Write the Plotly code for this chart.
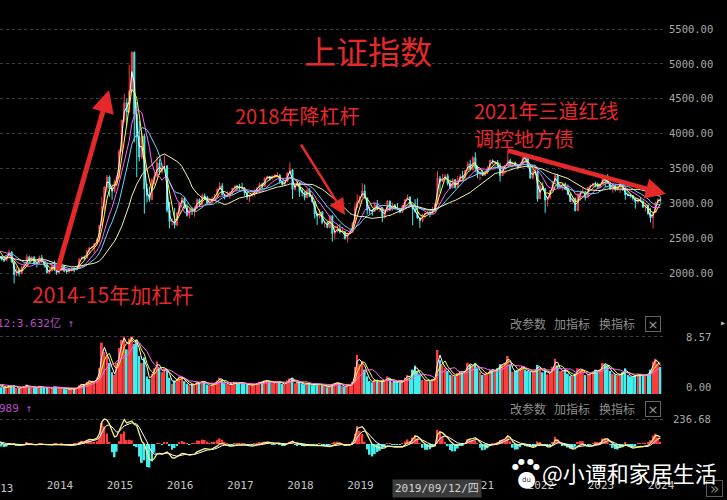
import pandas as pd
import plotly.graph_objects as go
from plotly.subplots import make_subplots

# ---------------- data: Shanghai Composite, half-month candles (Oct 2012 - Mar 2024) ----------------
opens = [
    2086, 2120, 2069, 2030, 1980, 2150,
    2269, 2311, 2385, 2432, 2365, 2278, 2237, 2194, 2178, 2246, 2301, 2162, 1979, 2039, 1994, 2085, 2098, 2231, 2175, 2228, 2141, 2136, 2220, 2160,
    2116, 2004, 2033, 2113, 2056, 2004, 2033, 2105, 2026, 2025, 2039, 2070, 2048, 2070, 2201, 2226, 2217, 2315, 2364, 2366, 2420, 2478, 2683, 2953,
    3235, 3376, 3210, 3173, 3310, 3373, 3748, 4194, 4441, 4309, 4612, 5166, 4277, 3957, 3664, 3965, 3206, 3114, 3053, 3338, 3383, 3580, 3445, 3520,
    3539, 2900, 2738, 2746, 2688, 2860, 3004, 3074, 2938, 2827, 2917, 2885, 2930, 3054, 2979, 3110, 3085, 3002, 3005, 3064, 3100, 3196, 3250, 3123,
    3104, 3112, 3159, 3217, 3242, 3237, 3223, 3222, 3155, 3090, 3117, 3132, 3192, 3222, 3273, 3246, 3361, 3385, 3349, 3391, 3393, 3403, 3317, 3266,
    3307, 3436, 3481, 3199, 3259, 3291, 3169, 3159, 3082, 3192, 3095, 3022, 2847, 2814, 2876, 2723, 2725, 2651, 2821, 2568, 2603, 2632, 2588, 2594,
    2494, 2570, 2585, 2719, 2941, 3021, 3091, 3177, 3078, 2903, 2899, 2882, 2979, 2917, 2932, 2815, 2886, 3031, 2905, 2976, 2929, 2909, 2872, 2968,
    3050, 3090, 2977, 2917, 2880, 2790, 2750, 2838, 2860, 2868, 2852, 2890, 2985, 3361, 3310, 3360, 3396, 3283, 3218, 3338, 3225, 3339, 3392, 3367,
    3473, 3566, 3483, 3655, 3509, 3419, 3442, 3398, 3447, 3490, 3615, 3589, 3591, 3539, 3397, 3517, 3544, 3614, 3568, 3572, 3547, 3521, 3564, 3681,
    3640, 3521, 3361, 3462, 3462, 3063, 3252, 3211, 3047, 3084, 3186, 3316, 3398, 3228, 3253, 3277, 3202, 3126, 3024, 3071, 2893, 3134, 3151, 3168,
    3089, 3228, 3255, 3284, 3280, 3227, 3273, 3380, 3323, 3290, 3205, 3252, 3202, 3237, 3291, 3190, 3120, 3117, 3110, 3073, 3018, 3054, 3030, 2942,
    2975, 2845, 2789, 2865, 3015, 3055,
]
highs = [
    2133, 2135, 2090, 2040, 2155, 2276,
    2320, 2395, 2444, 2434, 2370, 2300, 2245, 2220, 2260, 2334, 2310, 2165, 2092, 2071, 2100, 2149, 2270, 2250, 2243, 2240, 2160, 2250, 2260, 2170,
    2120, 2065, 2125, 2177, 2075, 2060, 2146, 2110, 2040, 2060, 2080, 2080, 2090, 2210, 2240, 2250, 2330, 2370, 2390, 2430, 2490, 2690, 3091, 3239,
    3406, 3400, 3270, 3340, 3400, 3776, 4200, 4570, 4500, 4986, 5178, 5176, 4450, 4184, 4006, 3994, 3280, 3240, 3360, 3460, 3678, 3632, 3580, 3684,
    3539, 3020, 2780, 2933, 2880, 3019, 3097, 3090, 2990, 2930, 2945, 2960, 3070, 3070, 3140, 3140, 3106, 3060, 3090, 3134, 3215, 3301, 3288, 3130,
    3172, 3170, 3220, 3260, 3265, 3280, 3295, 3230, 3160, 3120, 3160, 3200, 3230, 3300, 3300, 3370, 3392, 3390, 3400, 3420, 3450, 3420, 3320, 3310,
    3440, 3587, 3495, 3280, 3334, 3300, 3220, 3170, 3200, 3220, 3125, 3030, 2855, 2916, 2890, 2750, 2740, 2830, 2825, 2680, 2700, 2700, 2660, 2600,
    2580, 2620, 2730, 2995, 3130, 3110, 3288, 3270, 3080, 2950, 2920, 3010, 3048, 2950, 2945, 2900, 3042, 3040, 3010, 2990, 3000, 2935, 2980, 3060,
    3127, 3100, 2980, 3058, 3074, 2800, 2850, 2860, 2900, 2890, 2950, 2990, 3458, 3393, 3420, 3420, 3425, 3340, 3360, 3350, 3390, 3420, 3465, 3475,
    3600, 3626, 3680, 3731, 3540, 3470, 3480, 3470, 3530, 3625, 3630, 3610, 3620, 3580, 3540, 3550, 3723, 3640, 3600, 3600, 3560, 3590, 3708, 3690,
    3650, 3560, 3500, 3510, 3480, 3290, 3300, 3215, 3090, 3190, 3320, 3420, 3424, 3290, 3280, 3300, 3270, 3150, 3090, 3080, 3140, 3170, 3226, 3170,
    3235, 3270, 3290, 3310, 3300, 3290, 3390, 3395, 3418, 3300, 3260, 3260, 3260, 3300, 3322, 3240, 3170, 3140, 3110, 3080, 3070, 3090, 3040, 2980,
    2980, 2930, 2870, 3020, 3070, 3090,
]
lows = [
    2074, 2060, 2025, 1949, 1959, 2140,
    2255, 2262, 2380, 2280, 2240, 2220, 2180, 2161, 2175, 2240, 2150, 1849, 1953, 1951, 1980, 2070, 2090, 2150, 2170, 2130, 2080, 2130, 2150, 2080,
    1990, 1985, 2020, 2030, 1974, 1985, 2030, 2010, 1991, 2000, 2020, 2010, 2040, 2060, 2190, 2180, 2210, 2270, 2340, 2290, 2400, 2440, 2680, 2880,
    3160, 3095, 3050, 3150, 3240, 3370, 3740, 4160, 4110, 4300, 4600, 3875, 3373, 3600, 3630, 2850, 3011, 3020, 3040, 3270, 3370, 3410, 3430, 3500,
    2867, 2638, 2680, 2638, 2670, 2850, 2960, 2921, 2807, 2781, 2830, 2807, 2925, 2950, 2950, 3050, 2980, 2968, 3000, 3060, 3080, 3190, 3120, 3056,
    3090, 3065, 3120, 3190, 3190, 3180, 3200, 3110, 3050, 3016, 3090, 3100, 3150, 3150, 3200, 3240, 3340, 3330, 3340, 3360, 3370, 3280, 3254, 3250,
    3300, 3430, 3062, 3180, 3240, 3091, 3100, 3041, 3070, 3090, 3010, 2782, 2691, 2780, 2700, 2653, 2644, 2650, 2449, 2480, 2580, 2565, 2570, 2480,
    2440, 2560, 2580, 2710, 2940, 2980, 3080, 3070, 2838, 2850, 2822, 2880, 2900, 2870, 2733, 2780, 2880, 2890, 2895, 2910, 2900, 2857, 2860, 2960,
    3050, 2970, 2685, 2870, 2780, 2646, 2730, 2780, 2840, 2800, 2850, 2880, 2985, 3150, 3310, 3330, 3254, 3202, 3218, 3210, 3220, 3320, 3325, 3325,
    3470, 3480, 3470, 3450, 3360, 3330, 3390, 3390, 3420, 3470, 3560, 3520, 3500, 3312, 3390, 3420, 3540, 3530, 3515, 3530, 3485, 3510, 3550, 3590,
    3510, 3350, 3340, 3410, 3023, 3060, 3190, 2863, 2955, 3060, 3180, 3280, 3220, 3220, 3180, 3190, 3120, 3020, 3000, 2885, 2890, 3040, 3140, 3040,
    3070, 3220, 3230, 3230, 3210, 3220, 3270, 3230, 3280, 3190, 3150, 3170, 3180, 3150, 3180, 3050, 3100, 3080, 3040, 2924, 3010, 3020, 2940, 2882,
    2840, 2724, 2635, 2860, 3000, 3010,
]
closes = [
    2120, 2069, 2030, 1980, 2150, 2269,
    2311, 2385, 2432, 2365, 2278, 2237, 2194, 2178, 2246, 2301, 2162, 1979, 2039, 1994, 2085, 2098, 2231, 2175, 2228, 2141, 2136, 2220, 2160, 2116,
    2004, 2033, 2113, 2056, 2004, 2033, 2105, 2026, 2025, 2039, 2070, 2048, 2070, 2201, 2226, 2217, 2315, 2364, 2366, 2420, 2478, 2683, 2953, 3235,
    3376, 3210, 3173, 3310, 3373, 3748, 4194, 4441, 4309, 4612, 5166, 4277, 3957, 3664, 3965, 3206, 3114, 3053, 3338, 3383, 3580, 3445, 3520, 3539,
    2900, 2738, 2746, 2688, 2860, 3004, 3074, 2938, 2827, 2917, 2885, 2930, 3054, 2979, 3110, 3085, 3002, 3005, 3064, 3100, 3196, 3250, 3123, 3104,
    3112, 3159, 3217, 3242, 3237, 3223, 3222, 3155, 3090, 3117, 3132, 3192, 3222, 3273, 3246, 3361, 3385, 3349, 3391, 3393, 3403, 3317, 3266, 3307,
    3436, 3481, 3199, 3259, 3291, 3169, 3159, 3082, 3192, 3095, 3022, 2847, 2814, 2876, 2723, 2725, 2651, 2821, 2568, 2603, 2632, 2588, 2594, 2494,
    2570, 2585, 2719, 2941, 3021, 3091, 3177, 3078, 2903, 2899, 2882, 2979, 2917, 2932, 2815, 2886, 3031, 2905, 2976, 2929, 2909, 2872, 2968, 3050,
    3090, 2977, 2917, 2880, 2790, 2750, 2838, 2860, 2868, 2852, 2890, 2985, 3361, 3310, 3360, 3396, 3283, 3218, 3338, 3225, 3339, 3392, 3367, 3473,
    3566, 3483, 3655, 3509, 3419, 3442, 3398, 3447, 3490, 3615, 3589, 3591, 3539, 3397, 3517, 3544, 3614, 3568, 3572, 3547, 3521, 3564, 3681, 3640,
    3521, 3361, 3462, 3462, 3063, 3252, 3211, 3047, 3084, 3186, 3316, 3398, 3228, 3253, 3277, 3202, 3126, 3024, 3071, 2893, 3134, 3151, 3168, 3089,
    3228, 3255, 3284, 3280, 3227, 3273, 3380, 3323, 3290, 3205, 3252, 3202, 3237, 3291, 3190, 3120, 3117, 3110, 3073, 3018, 3054, 3030, 2942, 2975,
    2845, 2789, 2865, 3015, 3055, 3041,
]
volumes = [  # average weekly turnover level of each half month (axis units, top grid = 8.57)
    0.9, 0.9, 0.8, 0.8, 1.1, 1.4,
    1.5, 1.6, 1.7, 1.6, 1.4, 1.2, 1.0, 0.9, 1.0, 1.3, 1.1, 1.3, 0.9, 0.8, 1.0, 1.1, 1.4, 1.0, 1.1, 1.0, 0.9, 1.2, 1.0, 0.9,
    0.9, 0.8, 1.0, 1.1, 0.9, 0.9, 1.0, 0.8, 0.7, 0.7, 0.8, 0.8, 0.9, 1.3, 1.5, 1.3, 1.8, 2.0, 1.7, 1.9, 2.4, 3.8, 7.6, 6.2,
    5.5, 4.6, 3.2, 2.8, 4.6, 6.8, 8.0, 8.5, 6.6, 8.2, 8.5, 7.4, 8.0, 5.6, 4.6, 5.4, 2.6, 2.2, 3.0, 3.8, 4.8, 3.8, 3.2, 3.8,
    3.6, 2.4, 1.5, 2.0, 2.3, 2.6, 2.4, 1.9, 1.5, 1.3, 1.4, 1.4, 1.9, 1.6, 1.9, 1.8, 1.4, 1.2, 1.4, 1.6, 2.0, 2.4, 2.0, 1.6,
    1.5, 1.3, 1.5, 1.8, 1.6, 1.7, 1.7, 1.5, 1.4, 1.3, 1.3, 1.5, 1.6, 1.8, 1.8, 2.0, 2.0, 1.8, 1.6, 1.7, 1.9, 1.8, 1.5, 1.4,
    2.0, 2.3, 2.4, 1.6, 1.7, 1.8, 1.5, 1.4, 1.6, 1.5, 1.3, 1.6, 1.4, 1.5, 1.3, 1.2, 1.0, 1.2, 1.5, 1.6, 1.7, 1.5, 1.2, 1.1,
    1.3, 1.3, 1.8, 4.0, 5.8, 4.4, 4.8, 3.6, 2.6, 1.9, 1.7, 2.1, 2.0, 1.8, 1.9, 2.0, 2.6, 2.1, 1.8, 1.8, 1.8, 1.7, 1.9, 2.4,
    2.8, 2.3, 3.6, 4.2, 3.4, 2.8, 2.1, 2.0, 2.0, 1.9, 2.2, 2.3, 6.5, 5.0, 4.2, 3.8, 3.4, 2.8, 2.7, 2.6, 3.1, 3.4, 3.2, 3.4,
    4.6, 4.3, 4.2, 4.6, 3.8, 3.2, 2.8, 3.0, 3.1, 3.6, 3.6, 3.4, 3.8, 4.4, 4.4, 4.6, 5.6, 4.4, 3.3, 3.4, 3.5, 3.9, 4.1, 3.6,
    3.4, 3.3, 3.2, 3.5, 4.3, 3.8, 3.2, 3.6, 2.9, 3.2, 4.0, 5.2, 4.2, 3.4, 3.4, 3.6, 3.0, 2.7, 2.6, 3.0, 3.8, 3.6, 3.6, 2.8,
    2.9, 3.0, 3.3, 3.6, 3.3, 3.6, 4.6, 4.4, 4.2, 3.4, 3.0, 2.9, 2.7, 3.0, 3.2, 3.8, 2.8, 2.6, 2.5, 2.8, 2.9, 2.9, 2.7, 2.8,
    3.0, 3.6, 4.8, 5.2, 4.4, 4.0,
]
price_ticks = [2000, 2500, 3000, 3500, 4000, 4500, 5000, 5500]
year_ticks = [f"{y}-01-01" for y in range(2014, 2025)]
year_labels = ["2014", "2015", "2016", "2017", "2018", "2019", "2020", "2021", "2022", "2023", "2024"]

# half-month period start dates
dates = []
for m in pd.date_range("2012-10-01", "2024-03-01", freq="MS"):
    dates += [m, m + pd.Timedelta(days=15)]
n = len(dates)
assert all(len(a) == n for a in (opens, highs, lows, closes, volumes)), [len(a) for a in (opens, highs, lows, closes, volumes, dates)]

# moving averages and a volume MACD style oscillator (derived from the data above)
cs = pd.Series(closes, dtype=float)
vs = pd.Series(volumes, dtype=float)
price_ma = [(2, "#ffffff"), (4, "#ffff33"), (8, "#ff66ff"), (12, "#66d9ff"), (24, "#f3f0b8")]
vol_ma = [(2, "#ffffff"), (4, "#ffff33"), (8, "#ff66ff")]
dif = vs.ewm(span=6, adjust=False).mean() - vs.ewm(span=13, adjust=False).mean()
dea = dif.ewm(span=5, adjust=False).mean()
hist = 2 * (dif - dea)

UP, DOWN, RED = "#ff3c3c", "#40eeee", "#e5282a"

# ---------------- figure ----------------
W, H, PW, PH = 727, 500, 663, 478   # plot area 663 x 478 px (margins r=64, b=22)
def px(x): return x / PW
def py(y): return 1 - y / PH

fig = make_subplots(rows=3, cols=1, shared_xaxes=True, vertical_spacing=0)

fig.add_trace(go.Candlestick(
    x=dates, open=opens, high=highs, low=lows, close=closes,
    increasing=dict(line=dict(color=UP, width=1), fillcolor=UP),
    decreasing=dict(line=dict(color=DOWN, width=1), fillcolor=DOWN),
    whiskerwidth=0, hoverinfo="skip", showlegend=False), row=1, col=1)
for w, c in price_ma:
    fig.add_trace(go.Scatter(x=dates, y=cs.rolling(w, min_periods=1).mean(), mode="lines",
                             line=dict(color=c, width=1), hoverinfo="skip"), row=1, col=1)

vol_colors = [UP if c >= o else DOWN for o, c in zip(opens, closes)]
fig.add_trace(go.Bar(x=dates, y=volumes, marker=dict(color=vol_colors, line=dict(width=0)),
                     hoverinfo="skip"), row=2, col=1)
for w, c in vol_ma:
    fig.add_trace(go.Scatter(x=dates, y=vs.rolling(w, min_periods=1).mean(), mode="lines",
                             line=dict(color=c, width=1), hoverinfo="skip"), row=2, col=1)

fig.add_trace(go.Bar(x=dates, y=hist, marker=dict(color=[UP if h >= 0 else DOWN for h in hist], line=dict(width=0)),
                     hoverinfo="skip"), row=3, col=1)
fig.add_trace(go.Scatter(x=dates, y=dea, mode="lines", line=dict(color="#ffffff", width=1), hoverinfo="skip"), row=3, col=1)
fig.add_trace(go.Scatter(x=dates, y=dif, mode="lines", line=dict(color="#f6f08c", width=1.3), hoverinfo="skip"), row=3, col=1)

# axes
grid = dict(showgrid=True, gridcolor="#3c3c3c", griddash="dot", gridwidth=1, zeroline=False, showline=False, ticks="")
fig.update_xaxes(type="date", range=["2013-03-22", "2024-04-01"], showgrid=False, zeroline=False,
                 showline=False, ticks="", rangeslider_visible=False)
fig.update_xaxes(row=3, col=1, tickvals=year_ticks, ticktext=year_labels, ticklabelshift=13,
                 tickfont=dict(family="DejaVu Sans Mono", size=11, color="#c4c4c4"))

s = float(dif.max()) / 25.0   # value per pixel: top grid (dif max) 25 px above zero line
fig.update_layout(
    yaxis=dict(domain=[py(311), 1], side="right", range=[1455, 5916], tickvals=price_ticks, tickformat=".2f",
               tickfont=dict(family="DejaVu Sans Mono", size=10.5, color="#a8a8a8"), ticklabelstandoff=5, **grid),
    yaxis2=dict(domain=[py(394), py(313)], range=[0, 11.97], tickvals=[8.57], showticklabels=False, **grid),
    yaxis3=dict(domain=[py(477), py(396)], range=[-33 * s, 48 * s], tickvals=[float(dif.max()), -32 * s],
                showticklabels=False, **grid),
)

LINE = "#4a4a4a"
shapes = [
    dict(type="line", x0=0, x1=px(718), y0=py(312), y1=py(312), line=dict(color=LINE, width=1), layer="above"),
    dict(type="line", x0=0, x1=px(718), y0=py(395), y1=py(395), line=dict(color=LINE, width=1), layer="above"),
    dict(type="line", x0=0, x1=px(718), y0=py(478), y1=py(478), line=dict(color=LINE, width=1), layer="above"),
    dict(type="line", x0=px(662), x1=px(662), y0=py(478), y1=1, line=dict(color=LINE, width=1), layer="above"),
    dict(type="line", x0=px(718), x1=px(718), y0=py(478), y1=1, line=dict(color=LINE, width=1), layer="above"),
    dict(type="rect", x0=px(719), x1=px(728), y0=py(478), y1=1, fillcolor="#262626", line=dict(width=0), layer="above"),
]

CJK = "Noto Sans CJK SC"
MONO = "DejaVu Sans Mono"
def txt(t, x, y, size, color, family=CJK, xanchor="center", **kw):
    return dict(text=t, x=px(x), y=py(y), xref="paper", yref="paper", showarrow=False,
                xanchor=xanchor, yanchor="middle", font=dict(family=family, size=size, color=color), **kw)
def arrow(x0, y0, x1, y1, width, size=1.0):
    return dict(text="", x=px(x1), y=py(y1), xref="paper", yref="paper", ax=x0 - x1, ay=y0 - y1,
                showarrow=True, arrowhead=2, arrowsize=size, arrowwidth=width, arrowcolor=RED)

annotations = [
    txt("上证指数", 368, 50, 32, RED),
    txt("2018年降杠杆", 297, 115, 20, RED),
    txt("2021年三道红线", 472, 110, 20, RED, xanchor="left"),
    txt("调控地方债", 472, 138, 20, RED, xanchor="left"),
    txt("2014-15年加杠杆", 112, 294, 21, RED),
    arrow(57, 272, 109, 90, 5, 0.9),
    arrow(300, 143, 345, 215, 2.5, 1.3),
    arrow(506, 150, 666, 194, 4.5, 0.9),
    txt("12:3.632亿 ↑", -5, 323, 11, "#b84cc8", family=MONO + ", " + CJK, xanchor="left"),
    txt("989 ↑", -3, 408, 11, "#b84cc8", family=MONO, xanchor="left"),
    txt("8.57", 713, 337, 10.5, "#a8a8a8", family=MONO, xanchor="right"),
    txt("0.00", 713, 387, 10.5, "#a8a8a8", family=MONO, xanchor="right"),
    txt("236.68", 713, 419, 10.5, "#a8a8a8", family=MONO, xanchor="right"),
    txt("2013", 0, 488, 11, "#c4c4c4", family=MONO),
    txt("2019/09/12/四", 392, 488, 11, "#d6d6d6", family=MONO + ", " + CJK, xanchor="left",
        bgcolor="#3c3c3c", borderpad=2),
    txt("»", 714, 488, 15, "#8a8a8a", family=MONO, bordercolor="#5a5a5a", borderwidth=1, width=15, height=15, borderpad=0),
    txt("▸", 723, 322, 10, "#bbbbbb", family=MONO),
    # baidu paw of the watermark
    txt("●", 526, 478, 22, "#ffffff", family="DejaVu Sans"),
    txt("●", 515, 466, 8, "#ffffff", family="DejaVu Sans"),
    txt("●", 521, 461, 8, "#ffffff", family="DejaVu Sans"),
    txt("●", 530, 461, 8, "#ffffff", family="DejaVu Sans"),
    txt("●", 536, 466, 8, "#ffffff", family="DejaVu Sans"),
    txt("du", 526, 480, 7, "#333333", family="DejaVu Sans"),
    txt("@小谭和家居生活", 540, 472, 22, "#ffffff", xanchor="left"),
]
for yy in (323, 408):
    for xx, t in ((528, "改参数"), (572, "加指标"), (617, "换指标")):
        annotations.append(txt(t, xx, yy, 12, "#8e8e8e"))
    annotations.append(txt("×", 652.5, yy + 1, 13, "#9a9a9a", family="DejaVu Sans",
                           bordercolor="#666666", borderwidth=1, width=14, height=14, borderpad=0))

fig.update_layout(width=W, height=H, margin=dict(l=0, r=W - PW, t=0, b=H - PH),
                  paper_bgcolor="#000000", plot_bgcolor="#000000", showlegend=False,
                  bargap=0.15, shapes=shapes, annotations=annotations)
fig.write_html("out.html", config={"displayModeBar": False},
               post_script="document.body.style.margin='0';document.body.style.background='#000';")
